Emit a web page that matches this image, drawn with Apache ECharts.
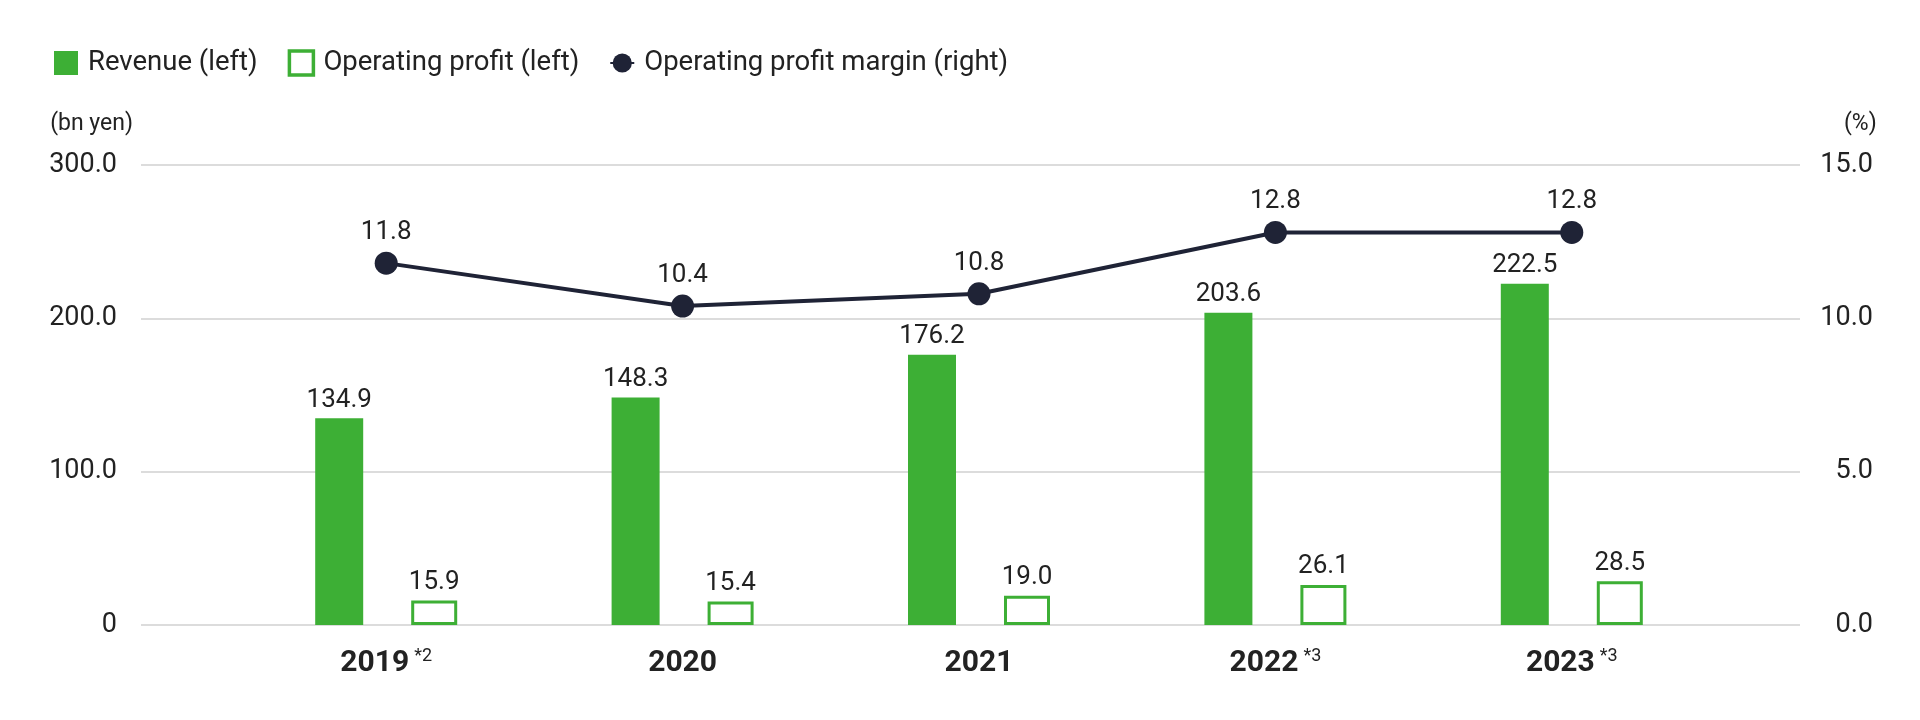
<!DOCTYPE html>
<html>
<head>
    <meta charset="utf-8">
    <title>Revenue / Operating profit</title>
    <script src="https://cdn.jsdelivr.net/npm/echarts@6/dist/echarts.min.js"></script>
    <style>
        html, body { margin: 0; padding: 0; background: #fff; }
    </style>
</head>
<body>
<div id="main" style="width: 1920px;height:720px;"></div>
<script type="text/javascript">
    var years = ['2019', '2020', '2021', '2022', '2023'];
    var yearNotes = ['*2', '', '', '*3', '*3'];
    var revenue = [134.9, 148.3, 176.2, 203.6, 222.5];
    var operatingProfit = [15.9, 15.4, 19.0, 26.1, 28.5];
    var profitMargin = [11.8, 10.4, 10.8, 12.8, 12.8];

    var GREEN = '#3daf35';
    var NAVY = '#1f2336';
    var TEXT = '#222222';
    var FONT = 'Roboto';

    var myChart = echarts.init(document.getElementById('main'));

    var option = {
        backgroundColor: '#fff',
        textStyle: { fontFamily: FONT, color: TEXT },
        animation: false,
        legend: {
            left: 49,
            top: 44,
            itemWidth: 24,
            itemHeight: 24,
            itemGap: 30,
            textStyle: { fontSize: 27.5, color: TEXT, fontFamily: FONT, padding: [0, 0, 0, 5] },
            data: [
                { name: 'Revenue (left)', icon: 'rect' },
                { name: 'Operating profit (left)', icon: 'rect',
                  itemStyle: { color: '#fff', borderColor: GREEN, borderWidth: 3.5 } },
                { name: 'Operating profit margin (right)' }
            ]
        },
        grid: [
            // gridlines and axis labels
            { left: 141, right: 120, top: 165, bottom: 95 },
            // the categories sit in a narrower band
            { left: 238, right: 200, top: 165, bottom: 95 }
        ],
        xAxis: [
            { type: 'category', gridIndex: 0, data: [''], show: false },
            {
                type: 'category',
                gridIndex: 1,
                data: years,
                axisLine: { show: false },
                axisTick: { show: false },
                axisLabel: {
                    margin: 22,
                    formatter: function (v, i) {
                        return '{y|' + v + '}' + (yearNotes[i] ? '{s|' + yearNotes[i] + '}' : '');
                    },
                    rich: {
                        y: { fontSize: 30, fontWeight: 'bold', color: TEXT, fontFamily: FONT, lineHeight: 32 },
                        s: { fontSize: 18, color: TEXT, fontFamily: FONT, verticalAlign: 'top',
                             lineHeight: 18, padding: [0, 0, 0, 5] }
                    }
                }
            }
        ],
        yAxis: [
            {
                type: 'value',
                gridIndex: 0,
                min: 0, max: 300, interval: 100,
                name: '(bn yen)',
                nameLocation: 'end',
                nameGap: 41,
                nameTextStyle: { fontSize: 23, color: TEXT, fontFamily: FONT,
                                 align: 'right', verticalAlign: 'middle', padding: [0, 8, 0, 0] },
                axisLine: { show: false },
                axisTick: { show: false },
                axisLabel: {
                    margin: 24, fontSize: 27, color: TEXT, fontFamily: FONT,
                    formatter: function (v) { return v === 0 ? '0' : v.toFixed(1); }
                },
                splitLine: { lineStyle: { color: '#dcdcdc', width: 2 } }
            },
            {
                type: 'value',
                gridIndex: 0,
                position: 'right',
                min: 0, max: 15, interval: 5,
                name: '(%)',
                nameLocation: 'end',
                nameGap: 41,
                nameTextStyle: { fontSize: 23, color: TEXT, fontFamily: FONT,
                                 align: 'left', verticalAlign: 'middle', padding: [0, 0, 0, 44] },
                axisLine: { show: false },
                axisTick: { show: false },
                axisLabel: {
                    margin: 73, align: 'right', fontSize: 27, color: TEXT, fontFamily: FONT,
                    formatter: function (v) { return v.toFixed(1); }
                },
                splitLine: { show: false }
            },
            { type: 'value', gridIndex: 1, min: 0, max: 300, interval: 100, show: false, splitLine: { show: false } },
            { type: 'value', gridIndex: 1, min: 0, max: 15, interval: 5, show: false, splitLine: { show: false } }
        ],
        series: [
            {
                name: 'Revenue (left)',
                type: 'bar',
                xAxisIndex: 1,
                yAxisIndex: 2,
                data: revenue,
                barWidth: 48,
                barGap: '100%',
                itemStyle: { color: GREEN },
                label: {
                    show: true, position: 'top', distance: 5,
                    fontSize: 26, color: TEXT, fontFamily: FONT,
                    formatter: function (p) { return p.value.toFixed(1); }
                }
            },
            {
                name: 'Operating profit (left)',
                type: 'bar',
                xAxisIndex: 1,
                yAxisIndex: 2,
                data: operatingProfit,
                barWidth: 46,
                barGap: '100%',
                itemStyle: { color: '#fff', borderColor: GREEN, borderWidth: 3 },
                label: {
                    show: true, position: 'top', distance: 5,
                    fontSize: 26, color: TEXT, fontFamily: FONT,
                    formatter: function (p) { return p.value.toFixed(1); }
                }
            },
            {
                name: 'Operating profit margin (right)',
                type: 'line',
                xAxisIndex: 1,
                yAxisIndex: 3,
                data: profitMargin,
                symbol: 'circle',
                symbolSize: 23,
                lineStyle: { color: NAVY, width: 4 },
                itemStyle: { color: NAVY },
                label: {
                    show: true, position: 'top', distance: 6,
                    fontSize: 26, color: TEXT, fontFamily: FONT,
                    formatter: function (p) { return p.value.toFixed(1); }
                },
                z: 5
            }
        ]
    };

    myChart.setOption(option);
</script>
</body>
</html>
